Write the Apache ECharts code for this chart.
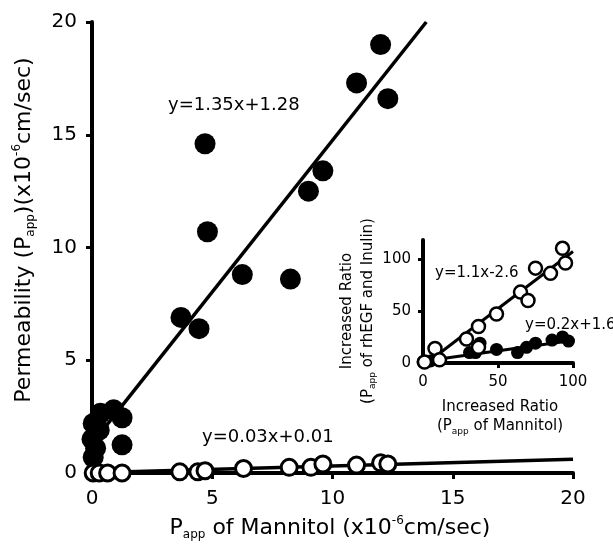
<!DOCTYPE html>
<html>
<head>
<meta charset="utf-8">
<script src="https://cdn.jsdelivr.net/npm/echarts@6/dist/echarts.min.js"></script>
<style>
  html, body { margin: 0; padding: 0; background: #fff; }
  #chart { width: 613px; height: 545px; }
</style>
</head>
<body>
<div id="chart"></div>
<script>
// main plot: Papp of rhEGF (filled) and inulin (open) against Papp of mannitol
var egfX = [0.05, 0.0, 0.05, 0.35, 0.3, 0.9, 1.25, 1.25, 0.15, 3.7, 4.45, 4.7, 4.8, 6.25, 8.25, 9.0, 9.6, 11.0, 12.0, 12.3];
var egfY = [2.2, 1.5, 0.7, 2.65, 1.9, 2.8, 2.45, 1.25, 1.1, 6.9, 6.4, 14.6, 10.7, 8.8, 8.6, 12.5, 13.4, 17.3, 19.0, 16.6];
var inulinX = [0.05, 0.3, 0.65, 1.25, 3.65, 4.4, 4.7, 6.3, 8.2, 9.1, 9.6, 11.0, 12.0, 12.3];
var inulinY = [0.0, 0.0, 0.0, 0.0, 0.05, 0.05, 0.1, 0.2, 0.25, 0.25, 0.4, 0.35, 0.45, 0.4];
// regression lines, end points
var egfFitX = [0, 13.9];
var egfFitY = [1.3, 20];
var inulinFitX = [0, 20];
var inulinFitY = [0.01, 0.61];
var mainTicks = [0, 5, 10, 15, 20];

// inset: increased ratios
var inOpenX = [1, 8, 11, 29, 37, 37, 49, 65, 70, 75, 85, 93, 95];
var inOpenY = [1, 14, 3, 23, 35, 15, 47, 68, 60, 91, 86, 110, 96];
var inFillX = [0, 5, 31, 35, 38, 49, 63, 69, 75, 86, 93, 97];
var inFillY = [1, 2, 10, 10, 19, 13, 10, 15, 19, 22, 25, 21];
var inOpenFitX = [2.5, 100];
var inOpenFitY = [0, 107];
var inFillFitX = [0, 97];
var inFillFitY = [1.6, 21];
var insetTicks = [0, 50, 100];

function pairs(xs, ys) {
  return xs.map(function (x, i) { return [x, ys[i]]; });
}

var FONT = "DejaVu Sans";
var chart = echarts.init(document.getElementById("chart"));

// shared look of all four axes
function axis(grid, min, max, ticks, fontSize, margin, tickLen) {
  return {
    type: "value", gridIndex: grid, min: min, max: max, interval: 50 * (max > 50 ? 1 : 0.1),
    axisLine: { show: true, onZero: false, lineStyle: { color: "#000", width: 4 } },
    axisTick: { show: true, length: tickLen, lineStyle: { color: "#000", width: 3 }, customValues: ticks },
    axisLabel: { color: "#000", fontSize: fontSize, fontFamily: FONT, margin: margin, customValues: ticks },
    splitLine: { show: false }
  };
}

function richStyles(size, small) {
  return {
    n: { fontSize: size, fontFamily: FONT, color: "#000", lineHeight: size + 4, verticalAlign: "middle" },
    s: { fontSize: small, fontFamily: FONT, color: "#000", lineHeight: small, verticalAlign: "bottom" },
    p: { fontSize: small, fontFamily: FONT, color: "#000", lineHeight: small, verticalAlign: "top" }
  };
}

function label(x, y, text, size) {
  return {
    type: "text", x: x, y: y, z: 100,
    style: { text: text, fontSize: size, fontFamily: FONT, fill: "#000", align: "left", verticalAlign: "middle" }
  };
}

function fitLine(xi, name, xs, ys, w) {
  return {
    name: name, type: "line", xAxisIndex: xi, yAxisIndex: xi,
    data: pairs(xs, ys), showSymbol: false, symbol: "none", z: 2,
    lineStyle: { color: "#000", width: w }, silent: true
  };
}

function dots(xi, name, xs, ys, size, open, bw) {
  return {
    name: name, type: "scatter", xAxisIndex: xi, yAxisIndex: xi,
    data: pairs(xs, ys), symbolSize: size, z: open ? 4 : 3,
    itemStyle: open
      ? { color: "#fff", borderColor: "#000", borderWidth: bw, opacity: 1 }
      : { color: "#000", opacity: 1 }
  };
}

chart.setOption({
  animation: false,
  backgroundColor: "#fff",
  grid: [
    { left: 92, right: 40, top: 22, bottom: 72 },
    { left: 423, right: 40, top: 240, bottom: 182 }
  ],
  xAxis: [
    axis(0, 0, 20, mainTicks, 20, 16, 6),
    axis(1, 0, 100, insetTicks, 15, 12, 5)
  ],
  yAxis: [
    axis(0, 0, 20, mainTicks, 20, 15, 6),
    axis(1, 0, 118, insetTicks, 15, 12, 5)
  ],
  graphic: [
    {
      type: "text", x: 330, y: 528, z: 100,
      style: {
        text: "{n|P}{s|app}{n| of Mannitol (x10}{p|-6}{n|cm/sec)}",
        rich: richStyles(22, 12), align: "center", verticalAlign: "middle"
      }
    },
    {
      type: "text", x: 24, y: 230, rotation: Math.PI / 2, z: 100,
      style: {
        text: "{n|Permeability (P}{s|app}{n|)(x10}{p|-6}{n|cm/sec)}",
        rich: richStyles(22, 12), align: "center", verticalAlign: "middle"
      }
    },
    {
      type: "text", x: 500, y: 417, z: 100,
      style: {
        text: "{n|Increased Ratio}\n{n|(P}{s|app}{n| of Mannitol)}",
        rich: richStyles(15, 9), align: "center", verticalAlign: "middle"
      }
    },
    {
      type: "text", x: 357, y: 311, rotation: Math.PI / 2, z: 100,
      style: {
        text: "{m|Increased Ratio}\n{n|(P}{s|app}{n| of rhEGF and Inulin)}",
        rich: Object.assign(richStyles(15, 9), {
          m: { fontSize: 15, fontFamily: FONT, color: "#000", lineHeight: 22, verticalAlign: "middle" }
        }),
        align: "center", verticalAlign: "middle"
      }
    },
    label(168, 105, "y=1.35x+1.28", 18),
    label(202, 437, "y=0.03x+0.01", 18),
    label(435, 273, "y=1.1x-2.6", 15),
    label(525, 325, "y=0.2x+1.6", 15)
  ],
  series: [
    fitLine(0, "rhEGF fit", egfFitX, egfFitY, 3.5),
    fitLine(0, "inulin fit", inulinFitX, inulinFitY, 3.5),
    dots(0, "rhEGF", egfX, egfY, 21, false),
    dots(0, "inulin", inulinX, inulinY, 16, true, 3),
    fitLine(1, "inset open fit", inOpenFitX, inOpenFitY, 3),
    fitLine(1, "inset filled fit", inFillFitX, inFillFitY, 3),
    dots(1, "inset filled", inFillX, inFillY, 13, false),
    dots(1, "inset open", inOpenX, inOpenY, 13, true, 2.5)
  ]
});
</script>
</body>
</html>
